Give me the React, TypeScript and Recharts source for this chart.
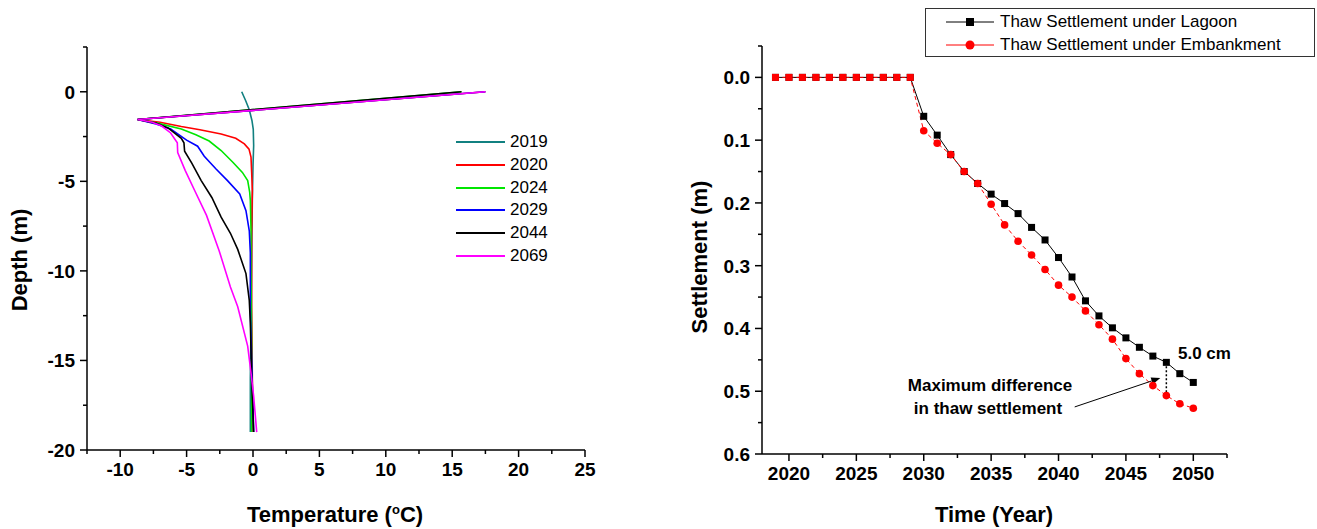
import React from 'react';
import { ScatterChart, Scatter, LineChart, Line, XAxis, YAxis, Legend, ReferenceLine } from 'recharts';

const FONT = '"Liberation Sans", Arial, sans-serif';

// ---- left panel: ground temperature profiles, [temperature (°C), depth (m)]
const profileYears = ['2019', '2020', '2024', '2029', '2044', '2069'];
const profileColors = ['#118080', '#ff0000', '#00e600', '#0000ff', '#000000', '#ff00ff'];

const p2019 = [[-0.85, 0], [-0.55, -0.5], [-0.28, -1.0], [-0.08, -1.6], [0.02, -2.1], [0.05, -3], [0, -4.15], [-0.05, -6], [-0.1, -9], [-0.15, -13], [-0.2, -16], [-0.2, -19]];
const p2020 = [[17.5, 0], [-8.7, -1.55], [-7, -1.7], [-5.4, -1.94], [-4, -2.12], [-2.4, -2.36], [-1.3, -2.6], [-0.65, -2.91], [-0.3, -3.2], [-0.15, -3.65], [-0.1, -4.5], [-0.05, -5.5], [-0.1, -8], [-0.1, -12], [-0.05, -16], [0, -19]];
const p2024 = [[15.7, 0], [-8.7, -1.55], [-7.2, -1.75], [-5.4, -2.08], [-4.3, -2.4], [-3.3, -2.75], [-2.4, -3.28], [-1.5, -3.95], [-0.8, -4.5], [-0.4, -4.96], [-0.25, -5.6], [-0.2, -6.07], [-0.15, -7.7], [-0.15, -10], [-0.1, -14], [-0.1, -19]];
const p2029 = [[17.5, 0], [-8.7, -1.55], [-7.3, -1.8], [-6.2, -2.08], [-5.0, -2.7], [-4.17, -3.04], [-3.67, -3.6], [-2.8, -4.3], [-1.92, -4.96], [-1.0, -5.7], [-0.53, -6.64], [-0.28, -7.76], [-0.2, -9], [-0.2, -12.2], [-0.1, -15], [0.05, -19]];
const p2044 = [[15.7, 0], [-8.7, -1.55], [-7.3, -1.75], [-6.4, -2.02], [-5.4, -2.6], [-5.2, -2.85], [-5.15, -3.32], [-4.6, -4.0], [-3.9, -4.96], [-3.1, -5.9], [-2.4, -7.0], [-1.7, -7.9], [-1.15, -8.8], [-0.53, -10.15], [-0.28, -11.65], [-0.2, -12.9], [-0.1, -16], [0.05, -19]];
const p2069 = [[17.5, 0], [-8.7, -1.55], [-7.6, -1.7], [-6.9, -1.9], [-6.2, -2.3], [-5.7, -2.85], [-5.67, -3.4], [-5.1, -4.4], [-4.42, -5.47], [-3.5, -6.9], [-2.55, -8.87], [-1.7, -10.9], [-1.15, -12.0], [-0.4, -14.2], [-0.15, -15.7], [0.05, -17], [0.28, -19]];
const profiles = [p2019, p2020, p2024, p2029, p2044, p2069];

const tempMajor = [-10, -5, 0, 5, 10, 15, 20, 25];
const tempMinor = [-12.5, -7.5, -2.5, 2.5, 7.5, 12.5, 17.5, 22.5];
const depthMajor = [-20, -15, -10, -5, 0];
const depthMinor = [-17.5, -12.5, -7.5, -2.5, 2.5];

// ---- right panel: thaw settlement (m)
const years = [2019, 2020, 2021, 2022, 2023, 2024, 2025, 2026, 2027, 2028, 2029, 2030, 2031, 2032, 2033, 2034, 2035, 2036, 2037, 2038, 2039, 2040, 2041, 2042, 2043, 2044, 2045, 2046, 2047, 2048, 2049, 2050];
const lagoon = [0, 0, 0, 0, 0, 0, 0, 0, 0, 0, 0, 0.062, 0.092, 0.123, 0.150, 0.169, 0.186, 0.201, 0.217, 0.239, 0.259, 0.287, 0.318, 0.356, 0.380, 0.399, 0.415, 0.430, 0.444, 0.454, 0.472, 0.486];
const embankment = [0, 0, 0, 0, 0, 0, 0, 0, 0, 0, 0, 0.085, 0.105, 0.123, 0.150, 0.169, 0.202, 0.235, 0.261, 0.283, 0.306, 0.331, 0.350, 0.372, 0.394, 0.417, 0.448, 0.472, 0.491, 0.507, 0.520, 0.527];

const yearMajor = [2020, 2025, 2030, 2035, 2040, 2045, 2050];
const yearMinor = [2022.5, 2027.5, 2032.5, 2037.5, 2042.5, 2047.5, 2052.5];
const settleMajor = [0, 0.1, 0.2, 0.3, 0.4, 0.5, 0.6];
const settleMinor = [-0.05, 0.05, 0.15, 0.25, 0.35, 0.45, 0.55];

const maxDiffYear = 2048;
const arrowFrom = { x: 2041.2, y: 0.525 };
const arrowTo = { x: 2047.55, y: 0.479 };

const settlementData = years.map((year, i) => ({ year, lagoon: lagoon[i], embankment: embankment[i] }));

const tickText = { fontFamily: FONT, fontWeight: 700, fontSize: 19, fill: '#000' };

function makeXTick(majors: number[], fmt: (v: number) => string) {
  return (props: any) => {
    const { x, y, payload } = props;
    const major = majors.includes(payload.value);
    return (
      <g>
        <line x1={x} x2={x} y1={y} y2={y + (major ? 7 : 4)} stroke="#000" strokeWidth={1.5} />
        {major && (
          <text x={x} y={y + 26} textAnchor="middle" {...tickText}>
            {fmt(payload.value)}
          </text>
        )}
      </g>
    );
  };
}

function makeYTick(majors: number[], fmt: (v: number) => string) {
  return (props: any) => {
    const { x, y, payload } = props;
    const major = majors.includes(payload.value);
    return (
      <g>
        <line x1={x} x2={x - (major ? 7 : 4)} y1={y} y2={y} stroke="#000" strokeWidth={1.5} />
        {major && (
          <text x={x - 12} y={y + 7} textAnchor="end" {...tickText}>
            {fmt(payload.value)}
          </text>
        )}
      </g>
    );
  };
}

const NoDot = () => <g />;

function ProfileLegend() {
  return (
    <div style={{ fontFamily: FONT, fontSize: 17, color: '#000' }}>
      {profileYears.map((yr, i) => (
        <div key={yr} style={{ display: 'flex', alignItems: 'center', height: 22.7 }}>
          <svg width={50} height={4} style={{ marginRight: 4 }}>
            <line x1={0} x2={49} y1={2} y2={2} stroke={profileColors[i]} strokeWidth={2} />
          </svg>
          <span>{yr}</span>
        </div>
      ))}
    </div>
  );
}

function SettlementLegend() {
  const rows = [
    { name: 'Thaw Settlement under Lagoon', color: '#000', square: true },
    { name: 'Thaw Settlement under Embankment', color: '#ff0000', square: false },
  ];
  return (
    <div style={{ fontFamily: FONT, fontSize: 17, color: '#000', border: '1px solid #333', width: 390, height: 49, boxSizing: 'border-box', padding: '1px 0 0 20px', background: '#fff' }}>
      {rows.map((r) => (
        <div key={r.name} style={{ display: 'flex', alignItems: 'center', height: 23 }}>
          <svg width={48} height={12} style={{ marginRight: 6 }}>
            <line x1={0} x2={48} y1={6} y2={6} stroke={r.color} strokeWidth={1} />
            {r.square ? <rect x={20} y={2} width={8} height={8} fill={r.color} /> : <circle cx={24} cy={6} r={4.5} fill={r.color} />}
          </svg>
          <span>{r.name}</span>
        </div>
      ))}
    </div>
  );
}

const LagoonDot = (props: any) => {
  const { cx, cy } = props;
  return <rect x={cx - 3.5} y={cy - 3.5} width={7} height={7} fill="#000" />;
};

const EmbankmentDot = (props: any) => {
  const { cx, cy, payload } = props;
  if (payload.embankment === 0) return <rect x={cx - 3.5} y={cy - 3.5} width={7} height={7} fill="#ff0000" />;
  return <circle cx={cx} cy={cy} r={3.8} fill="#ff0000" />;
};

const ArrowShape = (props: any) => {
  const { x1, y1, x2, y2 } = props;
  const ang = Math.atan2(y2 - y1, x2 - x1);
  const L = 9;
  const w = 3.5;
  const bx = x2 - L * Math.cos(ang);
  const by = y2 - L * Math.sin(ang);
  const px = -Math.sin(ang) * w;
  const py = Math.cos(ang) * w;
  return (
    <g>
      <line x1={x1} y1={y1} x2={bx} y2={by} stroke="#000" strokeWidth={1} />
      <polygon points={`${x2},${y2} ${bx + px},${by + py} ${bx - px},${by - py}`} fill="#000" />
    </g>
  );
};

const title: React.CSSProperties = { position: 'absolute', fontFamily: FONT, fontWeight: 700, fontSize: 22, color: '#000', whiteSpace: 'nowrap', transform: 'translate(-50%, -50%)' };
const note: React.CSSProperties = { position: 'absolute', fontFamily: FONT, fontWeight: 700, fontSize: 17, color: '#000', whiteSpace: 'nowrap', transform: 'translate(-50%, -50%)' };

export default function App() {
  const iDiff = years.indexOf(maxDiffYear);
  return (
    <div style={{ position: 'absolute', left: 0, top: 0, width: 1317, height: 529, background: '#fff', overflow: 'hidden' }}>
      <div style={{ position: 'absolute', left: 0, top: 0 }}>
        <ScatterChart width={620} height={529} margin={{ top: 47, right: 35, bottom: 49, left: 27 }}>
          <XAxis
            type="number"
            dataKey="t"
            domain={[-12.5, 25]}
            ticks={[...tempMajor, ...tempMinor]}
            interval={0}
            height={30}
            tickSize={0}
            tickMargin={0}
            tickLine={false}
            axisLine={{ stroke: '#000', strokeWidth: 1.5 }}
            tick={makeXTick(tempMajor, (v) => String(v))}
            allowDataOverflow
          />
          <YAxis
            type="number"
            dataKey="d"
            domain={[-20, 2.5]}
            ticks={[...depthMajor, ...depthMinor]}
            interval={0}
            width={60}
            tickSize={0}
            tickMargin={0}
            tickLine={false}
            axisLine={{ stroke: '#000', strokeWidth: 1.5 }}
            tick={makeYTick(depthMajor, (v) => String(v))}
            allowDataOverflow
          />
          {profiles.map((p, i) => (
            <Scatter
              key={profileYears[i]}
              name={profileYears[i]}
              data={p.map(([t, d]) => ({ t, d }))}
              fill={profileColors[i]}
              line={{ stroke: profileColors[i], strokeWidth: 1.6 }}
              shape={NoDot}
              isAnimationActive={false}
            />
          ))}
          <Legend
            layout="vertical"
            align="center"
            verticalAlign="middle"
            content={() => <ProfileLegend />}
            wrapperStyle={{ left: 456, top: 131, width: 120 }}
          />
        </ScatterChart>
      </div>

      <div style={{ position: 'absolute', left: 640, top: 0 }}>
        <LineChart width={677} height={529} data={settlementData} margin={{ top: 46, right: 90, bottom: 45, left: 62 }}>
          <XAxis
            type="number"
            dataKey="year"
            domain={[2018, 2052.5]}
            ticks={[...yearMajor, ...yearMinor]}
            interval={0}
            height={30}
            tickSize={0}
            tickMargin={0}
            tickLine={false}
            axisLine={{ stroke: '#000', strokeWidth: 1.5 }}
            tick={makeXTick(yearMajor, (v) => String(v))}
            allowDataOverflow
          />
          <YAxis
            type="number"
            reversed
            domain={[-0.05, 0.6]}
            ticks={[...settleMajor, ...settleMinor]}
            interval={0}
            width={60}
            tickSize={0}
            tickMargin={0}
            tickLine={false}
            axisLine={{ stroke: '#000', strokeWidth: 1.5 }}
            tick={makeYTick(settleMajor, (v) => v.toFixed(1))}
            allowDataOverflow
          />
          <Line dataKey="lagoon" name="Thaw Settlement under Lagoon" stroke="#000" strokeWidth={1} dot={LagoonDot} activeDot={false} isAnimationActive={false} />
          <Line dataKey="embankment" name="Thaw Settlement under Embankment" stroke="#ff0000" strokeWidth={1} strokeDasharray="4 3" dot={EmbankmentDot} activeDot={false} isAnimationActive={false} />
          <ReferenceLine
            segment={[{ x: maxDiffYear, y: lagoon[iDiff] }, { x: maxDiffYear, y: embankment[iDiff] }]}
            stroke="#000"
            strokeWidth={1.5}
            strokeDasharray="2 2"
          />
          <ReferenceLine segment={[arrowFrom, arrowTo]} shape={ArrowShape} />
          <Legend
            layout="vertical"
            align="center"
            verticalAlign="middle"
            content={() => <SettlementLegend />}
            wrapperStyle={{ left: 285, top: 8, width: 392 }}
          />
        </LineChart>
      </div>

      <div style={{ ...title, left: 20, top: 260, transform: 'translate(-50%, -50%) rotate(-90deg)' }}>Depth (m)</div>
      <div style={{ ...title, left: 335, top: 515 }}>
        Temperature (<sup style={{ fontSize: 13 }}>o</sup>C)
      </div>
      <div style={{ ...title, left: 700, top: 257, transform: 'translate(-50%, -50%) rotate(-90deg)' }}>Settlement (m)</div>
      <div style={{ ...title, left: 994, top: 515 }}>Time (Year)</div>

      <div style={{ ...note, left: 1178, top: 354, transform: 'translate(0, -50%)' }}>5.0 cm</div>
      <div style={{ ...note, left: 990, top: 386 }}>Maximum difference</div>
      <div style={{ ...note, left: 988, top: 409 }}>in thaw settlement</div>
    </div>
  );
}
